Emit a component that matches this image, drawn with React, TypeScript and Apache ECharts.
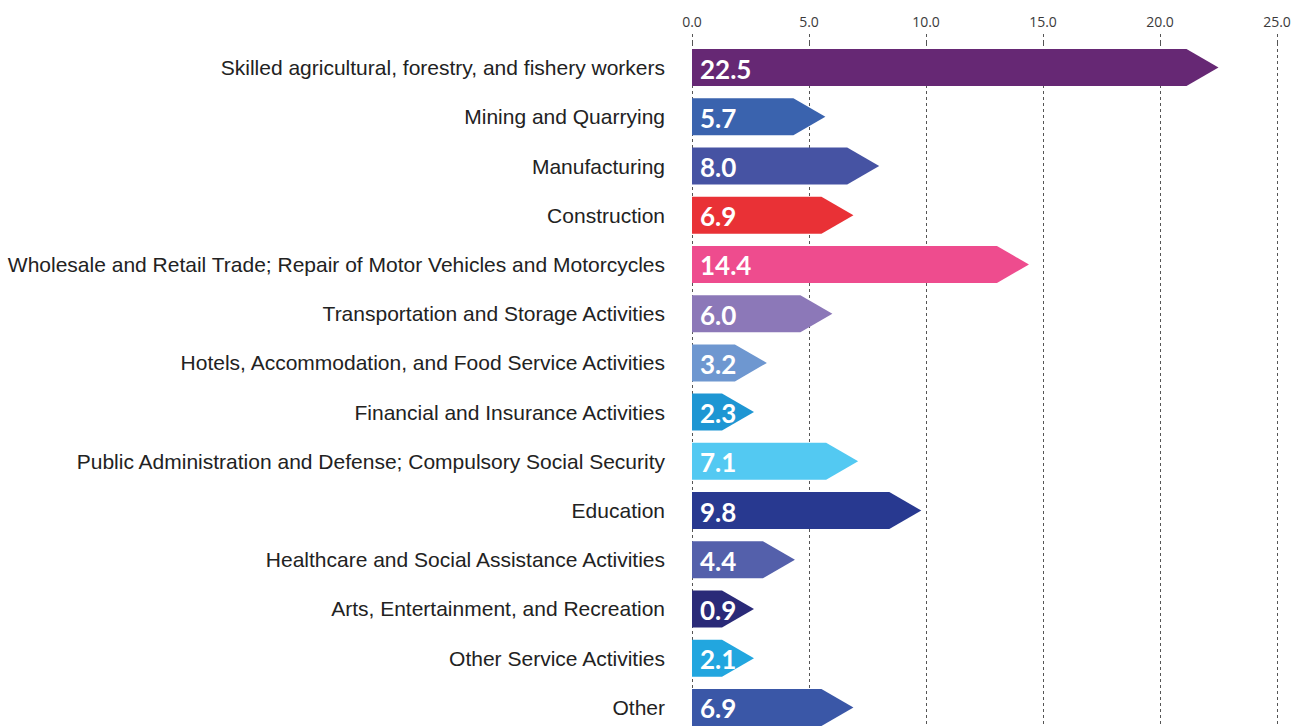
import React, { useEffect, useRef } from "react";
import * as echarts from "echarts";

const categories = [
  "Skilled agricultural, forestry, and fishery workers",
  "Mining and Quarrying",
  "Manufacturing",
  "Construction",
  "Wholesale and Retail Trade; Repair of Motor Vehicles and Motorcycles",
  "Transportation and Storage Activities",
  "Hotels, Accommodation, and Food Service Activities",
  "Financial and Insurance Activities",
  "Public Administration and Defense; Compulsory Social Security",
  "Education",
  "Healthcare and Social Assistance Activities",
  "Arts, Entertainment, and Recreation",
  "Other Service Activities",
  "Other",
];

const values = [22.5, 5.7, 8.0, 6.9, 14.4, 6.0, 3.2, 2.3, 7.1, 9.8, 4.4, 0.9, 2.1, 6.9];

const colors = [
  "#662874",
  "#3A63AE",
  "#4653A3",
  "#E93136",
  "#EE4C8E",
  "#8C78B8",
  "#6E97D0",
  "#1E96D3",
  "#53C9F2",
  "#283990",
  "#5460AB",
  "#2A2A78",
  "#22A6DF",
  "#3A57A7",
];

const xTicks = [0, 5, 10, 15, 20, 25];

export default function App() {
  const ref = useRef<HTMLDivElement>(null);

  useEffect(() => {
    if (!ref.current) return;
    const chart = echarts.init(ref.current, null, { renderer: "svg" });
    const option: any = {
      animation: false,
      backgroundColor: "#ffffff",
      grid: { left: 692, right: 28, top: 43, bottom: 8, containLabel: false },
      xAxis: {
        type: "value",
        position: "top",
        min: xTicks[0],
        max: xTicks[xTicks.length - 1],
        interval: 5,
        axisLine: { show: false },
        axisTick: {
          show: true,
          length: 11,
          lineStyle: { color: "#555", type: [3, 3], width: 1 },
        },
        axisLabel: {
          formatter: (v: number) => v.toFixed(1),
          color: "#3a3a3a",
          fontSize: 14,
          fontFamily: "Open Sans",
          margin: 15,
        },
        splitLine: {
          show: true,
          lineStyle: { color: "#555", type: [3, 3], width: 1 },
        },
      },
      yAxis: {
        type: "category",
        inverse: true,
        data: categories,
        axisLine: { show: false },
        axisTick: { show: false },
        axisLabel: {
          color: "#222",
          fontSize: 21,
          fontFamily: "Liberation Sans",
          margin: 27,
        },
      },
      series: [
        {
          type: "custom",
          data: values.map((v, i) => [v, i]),
          encode: { x: 0, y: 1 },
          renderItem: (params: any, api: any) => {
            const v = api.value(0);
            const idx = api.value(1);
            const p0 = api.coord([0, idx]);
            const p1 = api.coord([v, idx]);
            const x0 = p0[0];
            const y = p0[1];
            const h = 37;
            const tip = 32;
            const xEnd = Math.max(p1[0], x0 + 62);
            const color = colors[params.dataIndex];
            return {
              type: "group",
              children: [
                {
                  type: "polygon",
                  shape: {
                    points: [
                      [x0, y - h / 2],
                      [xEnd - tip, y - h / 2],
                      [xEnd, y],
                      [xEnd - tip, y + h / 2],
                      [x0, y + h / 2],
                    ],
                  },
                  style: { fill: color },
                },
                {
                  type: "text",
                  x: x0 + 8,
                  y: y + 1,
                  style: {
                    text: v.toFixed(1),
                    fill: "#ffffff",
                    font: "bold 26px Lato",
                    textAlign: "left",
                    textVerticalAlign: "middle",
                  },
                },
              ],
            };
          },
        },
      ],
    };
    chart.setOption(option);
    return () => chart.dispose();
  }, []);

  return (
    <div
      ref={ref}
      style={{ position: "fixed", left: 0, top: 0, width: 1305, height: 740 }}
    />
  );
}
